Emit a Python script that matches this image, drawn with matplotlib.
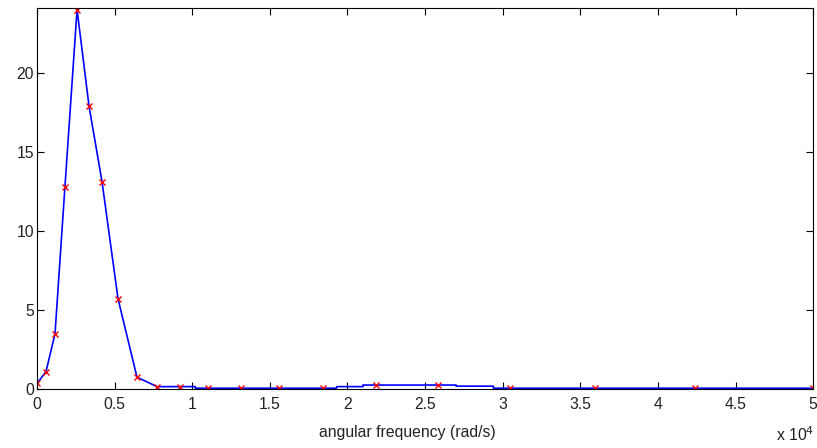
import matplotlib
matplotlib.use("Agg")
import matplotlib.pyplot as plt
from matplotlib.ticker import FuncFormatter

plt.rcParams["font.family"] = ["Liberation Sans", "DejaVu Sans"]

# sampled points (red crosses)
freq = [0, 580, 1160, 1800, 2580, 3350, 4190, 5220, 6440, 7730, 9220,
        11020, 13140, 15590, 18430, 21840, 25830, 30470, 35950, 42400, 50000]
amp = [0.35, 1.1, 3.5, 12.8, 24.0, 17.9, 13.1, 5.7, 0.75, 0.15, 0.15,
       0.05, 0.05, 0.05, 0.05, 0.25, 0.25, 0.05, 0.05, 0.05, 0.05]

# interpolated curve (blue line), with its small steps
freq_line = [0, 580, 1160, 1800, 2580, 3350, 4190, 5220, 6440, 7730, 9220,
             10200, 10200, 11020, 13140, 15590, 18430, 19300, 19300, 21000,
             21000, 21840, 25830, 27000, 27000, 29400, 29400, 30470, 35950,
             42400, 50000]
amp_line = [0.35, 1.1, 3.5, 12.8, 24.0, 17.9, 13.1, 5.7, 0.75, 0.15, 0.15,
            0.15, 0.05, 0.05, 0.05, 0.05, 0.05, 0.05, 0.15, 0.15,
            0.25, 0.25, 0.25, 0.25, 0.18, 0.18, 0.05, 0.05, 0.05,
            0.05, 0.05]

xticks = [0, 5000, 10000, 15000, 20000, 25000, 30000, 35000, 40000, 45000, 50000]
yticks = [0, 5, 10, 15, 20]

fig = plt.figure(figsize=(8.17, 4.48), dpi=100)
ax = fig.add_axes([0.0453, 0.1317, 0.950, 0.8504])

ax.plot(freq_line, amp_line, color="#0000ff", lw=1.2)
ax.plot(freq, amp, "x", color="#ff0000", ms=4.5, mew=1.0)

ax.set_xlim(0, 50000)
ax.set_ylim(0, 24.1)
ax.set_xticks(xticks)
ax.set_yticks(yticks)
ax.xaxis.set_major_formatter(FuncFormatter(lambda v, p: f"{v / 1e4:g}"))
ax.tick_params(direction="in", top=True, right=True, length=5,
               labelsize=11.3, width=0.8, labelcolor="#222222")
ax.tick_params(axis="x", pad=6)
ax.tick_params(axis="y", pad=2)
for s in ax.spines.values():
    s.set_linewidth(0.8)

fig.text(407 / 817, 1 - 432 / 448, "angular frequency (rad/s)",
         ha="center", va="center", fontsize=11.3, color="#222222")
fig.text(0.997, 0.008, r"x 10$^4$", ha="right", va="bottom",
         fontsize=11.3, color="#222222")

fig.savefig("out.png", dpi=100)
